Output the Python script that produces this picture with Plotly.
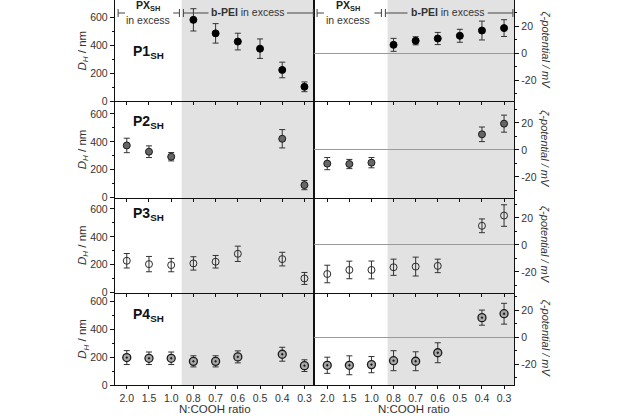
import plotly.graph_objects as go

ratios = ["2.0", "1.5", "1.0", "0.8", "0.7", "0.6", "0.5", "0.4", "0.3"]
sample_labels = ["P1", "P2", "P3", "P4"]
dh_ticks = [0, 200, 400, 600]
zeta_ticks = [-20, 0, 20]
zeta_tick_text = ["-20", "0", "20"]

p1_dh = [None, None, None, 583, 486, 427, 376, 223, 102]
p1_dh_err = [None, None, None, 80, 70, 60, 70, 56, 35]
p1_zeta = [None, None, None, 6.4, 9.4, 11.1, 13.1, 17.0, 18.8]
p1_zeta_err = [None, None, None, 4.8, 3.0, 4.5, 4.8, 7.0, 6.2]

p2_dh = [374, 329, 293, None, None, None, None, 422, 89]
p2_dh_err = [52, 42, 30, None, None, None, None, 66, 33]
p2_zeta = [-10.1, -10.4, -9.4, None, None, None, None, 11.6, 19.5]
p2_zeta_err = [4.5, 3.4, 3.8, None, None, None, None, 5.4, 6.3]

p3_dh = [228, 204, 197, 209, 221, 278, None, 240, 101]
p3_dh_err = [52, 55, 48, 48, 45, 55, None, 49, 43]
p3_zeta = [-21.5, -18.5, -18.5, -16.5, -16.0, -15.5, None, 14.2, 21.8]
p3_zeta_err = [6.5, 6.5, 6.6, 6.0, 7.0, 5.0, None, 5.1, 8.0]

p4_dh = [197, 192, 192, 170, 170, 202, None, 221, 139]
p4_dh_err = [50, 45, 45, 40, 40, 43, None, 50, 42]
p4_zeta = [-20.6, -20.6, -20.1, -17.2, -17.6, -11.3, None, 14.7, 17.6]
p4_zeta_err = [6.0, 7.0, 6.0, 7.4, 7.0, 7.4, None, 5.6, 7.7]

dh_series = [p1_dh, p2_dh, p3_dh, p4_dh]
dh_errs = [p1_dh_err, p2_dh_err, p3_dh_err, p4_dh_err]
zeta_series = [p1_zeta, p2_zeta, p3_zeta, p4_zeta]
zeta_errs = [p1_zeta_err, p2_zeta_err, p3_zeta_err, p4_zeta_err]

FONT = "Liberation Sans, Arial, sans-serif"
W, H = 630, 416
ML, MR, MT, MB = 115, 116, 0, 31
PH = H - MT - MB  # plot height px
PW = W - ML - MR

markers = [
    dict(symbol="circle", size=7, color="#000000", line=dict(color="#000000", width=1)),
    dict(symbol="circle", size=7, color="#666666", line=dict(color="#1a1a1a", width=1)),
    dict(symbol="circle-open", size=7, color="#2a2a2a", line=dict(color="#2a2a2a", width=1)),
    dict(symbol="circle-dot", size=8, color="#a8a8a8", line=dict(color="#1a1a1a", width=1.3)),
]

row_px = [(0, 101), (101, 197.5), (197.5, 292.5), (292.5, 385)]
col_dom = [(0, 199 / 399), (199 / 399, 1)]
x_ranges = [(-0.53, 8.43), (-0.6, 8.45)]
nm_per_px = 7.185
mv_per_px = 1 / 1.35
zeta_bottom = -35.2
TICKFONT = dict(family=FONT, size=10.5, color="#333333")

fig = go.Figure()
layout = {}
annotations = []
shapes = []

for r in range(4):
    top, bot = row_px[r]
    ydom = [1 - bot / PH, 1 - top / PH]
    hpx = bot - top
    for c in range(2):
        n = 2 * r + c + 1
        xname = "xaxis" if n == 1 else f"xaxis{n}"
        yname = "yaxis" if n == 1 else f"yaxis{n}"
        xref = "x" if n == 1 else f"x{n}"
        yref = "y" if n == 1 else f"y{n}"
        if c == 0:
            yvals, yerr = dh_series[r], dh_errs[r]
        else:
            yvals, yerr = zeta_series[r], zeta_errs[r]
        fig.add_trace(go.Scatter(
            x=ratios, y=yvals, mode="markers", marker=markers[r],
            error_y=dict(type="data", array=yerr, visible=True, color="#333333",
                         thickness=1, width=3),
            xaxis=xref, yaxis=yref, showlegend=False, cliponaxis=False))
        layout[xname] = dict(
            domain=list(col_dom[c]), anchor=yref, type="category",
            categoryorder="array", categoryarray=ratios,
            range=list(x_ranges[c]), showline=True, linecolor="#111111", linewidth=1.4,
            ticks="outside", ticklen=3, tickcolor="#111111", tickwidth=1,
            showticklabels=(r == 3), showgrid=False, zeroline=False,
            tickfont=TICKFONT,
        )
        if c == 0:
            layout[yname] = dict(
                domain=ydom, anchor=xref, range=[0, hpx * nm_per_px],
                tickvals=dh_ticks, showline=True, mirror=True,
                linecolor="#111111", linewidth=1.4, ticks="outside", ticklen=4,
                tickcolor="#111111", showgrid=False, zeroline=False,
                minor=dict(tickvals=[100, 300, 500], ticks="outside", ticklen=2,
                           tickcolor="#111111"),
                tickfont=TICKFONT,
            )
            annotations.append(dict(
                text="<i>D<sub>H</sub></i> / nm", xref="paper", yref="paper",
                x=(83 - ML) / PW, y=(ydom[0] + ydom[1]) / 2,
                textangle=-90, showarrow=False, xanchor="center", yanchor="middle",
                font=dict(family=FONT, size=11.5, color="#333333")))
            lab_y = [0.485, 0.78, 0.826, 0.757][r]
            annotations.append(dict(
                text=f"<b>{sample_labels[r]}<sub>SH</sub></b>", xref=f"{xref} domain",
                yref=f"{yref} domain", x=0.166, y=lab_y, showarrow=False,
                xanchor="center", yanchor="middle",
                font=dict(family=FONT, size=14, color="#111111")))
        else:
            layout[yname] = dict(
                domain=ydom, anchor=xref, side="right",
                range=[zeta_bottom, zeta_bottom + hpx * mv_per_px],
                tickvals=zeta_ticks, ticktext=zeta_tick_text, showline=True, mirror=True,
                linecolor="#111111", linewidth=1.4, ticks="outside", ticklen=4,
                tickcolor="#111111", showgrid=False, zeroline=True,
                zerolinecolor="#9a9a9a", zerolinewidth=1,
                minor=dict(tickvals=[-30, -10, 10, 30], ticks="outside", ticklen=2,
                           tickcolor="#111111"),
                tickfont=TICKFONT,
            )
            annotations.append(dict(
                text="<i>ζ-potential / mV</i>", xref="paper", yref="paper",
                x=(545 - ML) / PW, y=(ydom[0] + ydom[1]) / 2,
                textangle=90, showarrow=False, xanchor="center", yanchor="middle",
                font=dict(family=FONT, size=11, color="#333333")))

# x-axis titles
for c in range(2):
    annotations.append(dict(
        text="N:COOH ratio", xref="paper", yref="paper",
        x=(col_dom[c][0] + col_dom[c][1]) / 2, y=-(409 - PH) / PH,
        showarrow=False, xanchor="center", yanchor="middle",
        font=dict(family=FONT, size=11.5, color="#333333")))

# shaded "b-PEI in excess" regions
gray_start = [2.47, 2.73]
for c, xr in enumerate(["x", "x2"]):
    shapes.append(dict(type="rect", xref=xr, yref="paper", x0=gray_start[c],
                       x1=x_ranges[c][1], y0=0, y1=1, fillcolor="#e2e2e2",
                       line=dict(width=0), layer="below"))

# brackets at the top
yb = 1 - 13 / PH
cap = 4 / PH
bracket_segments = [
    ("x", -0.39, -0.08, True, False), ("x", 2.09, 2.37, False, True),
    ("x", 2.55, 3.68, True, False), ("x", 7.21, 8.40, False, True),
    ("x2", -0.46, -0.15, True, False), ("x2", 2.13, 2.45, False, True),
    ("x2", 2.63, 3.63, True, False), ("x2", 7.26, 8.40, False, True),
]
for xr, a, b, capl, capr in bracket_segments:
    shapes.append(dict(type="line", xref=xr, yref="paper", x0=a, x1=b, y0=yb, y1=yb,
                       line=dict(color="#444444", width=1)))
    if capl:
        shapes.append(dict(type="line", xref=xr, yref="paper", x0=a, x1=a,
                           y0=yb - cap, y1=yb + cap, line=dict(color="#444444", width=1)))
    if capr:
        shapes.append(dict(type="line", xref=xr, yref="paper", x0=b, x1=b,
                           y0=yb - cap, y1=yb + cap, line=dict(color="#444444", width=1)))

for xr, xc in [("x", 0.96), ("x2", 0.95)]:
    annotations.append(dict(text="<b>PX<sub>SH</sub></b>", xref=xr, yref="paper",
                            x=xc, y=1 - 6 / PH, showarrow=False, xanchor="center",
                            yanchor="middle", font=dict(family=FONT, size=10.5, color="#222222")))
    annotations.append(dict(text="in excess", xref=xr, yref="paper",
                            x=xc, y=1 - 20 / PH, showarrow=False, xanchor="center",
                            yanchor="middle", font=dict(family=FONT, size=10.5, color="#333333")))
for xr, xc in [("x", 5.44), ("x2", 5.45)]:
    annotations.append(dict(text="<b>b-PEI</b> in excess", xref=xr, yref="paper",
                            x=xc, y=1 - 12 / PH, showarrow=False, xanchor="center",
                            yanchor="middle", font=dict(family=FONT, size=10.5, color="#333333")))

fig.update_layout(
    width=W, height=H, margin=dict(l=ML, r=MR, t=MT, b=MB),
    paper_bgcolor="white", plot_bgcolor="rgba(0,0,0,0)",
    showlegend=False, annotations=annotations, shapes=shapes,
    font=dict(family=FONT, size=11, color="#333333"),
    **layout,
)
fig.write_html("out.html", config={"displayModeBar": False},
               post_script="document.body.style.margin='0';document.body.style.padding='0';")
